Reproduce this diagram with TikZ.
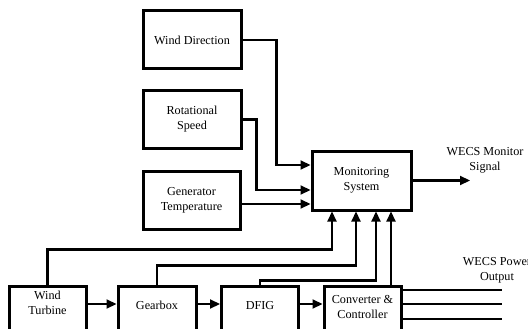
\documentclass[tikz,border=0pt]{standalone}
\usepackage{fontspec}
\setmainfont{Liberation Serif}[Ligatures=TeX]
\usetikzlibrary{arrows.meta,calc}
\begin{document}
\begin{tikzpicture}[x=1pt,y=-1pt,
  box/.style={draw, line width=3pt, align=center, font=\rmfamily\fontsize{12.2}{15}\selectfont, inner sep=2pt},
  txt/.style={align=center, font=\rmfamily\fontsize{12.2}{15}\selectfont, inner sep=1pt},
  conn/.style={line width=2.2pt, -{Triangle[length=10pt,width=9pt]}},
  plain/.style={line width=2.2pt}]
\useasboundingbox (0,0) rectangle (528,329);
\clip (0,0) rectangle (528,329);
% top boxes
\node[box, minimum width=98pt, minimum height=58pt] (wd) at (192,40) {Wind Direction};
\node[box, minimum width=98pt, minimum height=57pt] (rs) at (192,119.5) {Rotational\\Speed};
\node[box, minimum width=97pt, minimum height=58pt] (gt) at (191.5,200) {Generator\\Temperature};
\node[box, minimum width=99pt, minimum height=59pt] (ms) at (361.5,180.5) {Monitoring\\System};
% bottom boxes
\node[box, minimum width=77pt, minimum height=80pt, anchor=north,
  label={[txt, yshift=23pt]center:Wind\\Turbine}] (wt) at (47.5,284.5) {};
\node[box, minimum width=78pt, minimum height=80pt, anchor=north,
  label={[txt, yshift=20.5pt]center:Gearbox}] (gb) at (157,284.5) {};
\node[box, minimum width=77pt, minimum height=80pt, anchor=north,
  label={[txt, yshift=20.5pt]center:DFIG}] (dfig) at (260,284.5) {};
\node[box, minimum width=77pt, minimum height=80pt, anchor=north,
  label={[txt, yshift=19pt]center:Converter \&\\Controller}] (cc) at (362.5,284.5) {};
% inputs to monitoring system
\draw[conn] (wd.east) -| ([xshift=-34pt,yshift=15.5pt]ms.west) -- ([yshift=15.5pt]ms.west);
\draw[conn] (rs.east) -| ([xshift=-54pt,yshift=-9.5pt]ms.west) -- ([yshift=-9.5pt]ms.west);
\coordinate (m3) at ([yshift=-23.5pt]ms.west);
\draw[conn] (gt.east |- m3) -- (m3);
% chain
\draw[conn] ([yshift=-19.5pt]wt.north east) -- ([yshift=-19.5pt]gb.north west);
\draw[conn] ([yshift=-19.5pt]gb.north east) -- ([yshift=-19.5pt]dfig.north west);
\draw[conn] ([yshift=-19.5pt]dfig.north east) -- ([yshift=-19.5pt]cc.north west);
% feedback to monitoring
\draw[conn] (wt.north) |- ([xshift=-29.5pt,yshift=-38pt]ms.south) -- ([xshift=-29.5pt]ms.south);
\draw[conn] (gb.north) |- ([xshift=-5.5pt,yshift=-54pt]ms.south) -- ([xshift=-5.5pt]ms.south);
\draw[conn] (dfig.north) |- ([xshift=14.5pt,yshift=-69pt]ms.south) -- ([xshift=14.5pt]ms.south);
\coordinate (c4) at ([xshift=29.5pt]ms.south);
\draw[conn] (c4 |- cc.north) -- (c4);
% monitor output
\coordinate (mo) at (470,180.5);
\draw[conn] (ms.east) -- (mo);
\node[txt] (mlab) at (485,160) {WECS Monitor\\Signal};
% power output
\coordinate (o1) at (502,290);
\coordinate (o2) at (502,304);
\coordinate (o3) at (502,319);
\draw[plain] (cc.east |- o1) -- (o1);
\draw[plain] (cc.east |- o2) -- (o2);
\draw[plain] (cc.east |- o3) -- (o3);
\node[txt] (plab) at (497,270.5) {WECS Power\\Output};
\end{tikzpicture}
\end{document}
